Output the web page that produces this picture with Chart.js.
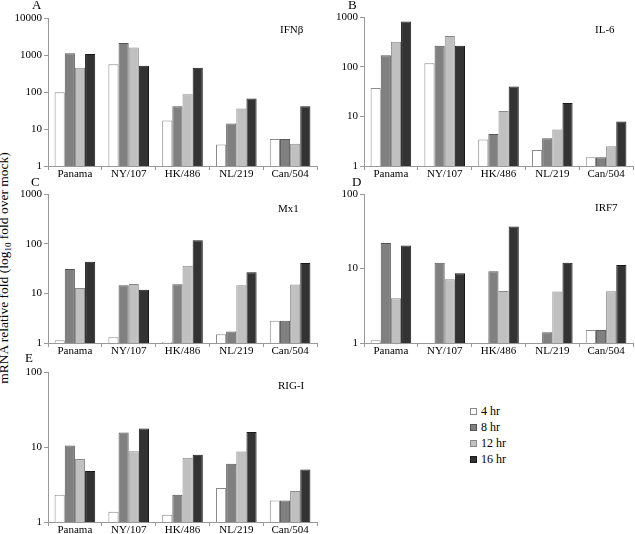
<!DOCTYPE html>
<html>
<head>
<meta charset="utf-8">
<script src="https://cdn.jsdelivr.net/npm/chart.js@4.4.0/dist/chart.umd.min.js"></script>
<style>
body { margin: 0; background: #fff; width: 635px; height: 534px; overflow: hidden; position: relative; font-family: "Liberation Serif", serif; color: #000; }
canvas { position: absolute; }
.letra { position: absolute; font-size: 13px; line-height: 13px; }
.gen { position: absolute; font-size: 11px; line-height: 11px; }
#yTitle { position: absolute; left: 6px; top: 268px; transform: translate(-50%, -50%) rotate(-90deg); white-space: nowrap; font-size: 13.5px; line-height: 13px; }
#yTitle sub { font-size: 9px; }
#leyenda { position: absolute; left: 470px; top: 403px; font-size: 12px; }
.item { height: 16px; display: flex; align-items: center; }
.cuadro { width: 5px; height: 5px; border: 1px solid; margin-right: 4px; }
</style>
</head>
<body>
<div id="yTitle">mRNA relative fold (log<sub>10</sub> fold over mock)</div>
<div id="leyenda"></div>
<script>
// datos
const cepas = ['Panama', 'NY/107', 'HK/486', 'NL/219', 'Can/504'];
const horas = ['4 hr', '8 hr', '12 hr', '16 hr'];

// cada fila es una hora (4, 8, 12, 16 hr)
const ifnb = [
    [98, 560, 17, 3.8, 5.4],
    [1120, 2100, 41, 14, 5.4],
    [450, 1600, 87, 36, 4],
    [1070, 510, 450, 67, 41]
];
const il6 = [
    [37, 117, 3.4, 2.1, 1.5],
    [170, 263, 4.4, 3.6, 1.5],
    [316, 413, 12.8, 5.4, 2.5],
    [810, 263, 40, 18.5, 7.9]
];
const mx1 = [
    [1.13, 1.3, 1.06, 1.5, 2.8],
    [31, 14.5, 15.2, 1.7, 2.8],
    [12.8, 15.4, 36, 14.5, 15],
    [43, 11.8, 117, 26.5, 41]
];
const irf7 = [
    [1.09, null, null, null, 1.5],
    [22, 11.9, 9.2, 1.39, 1.5],
    [4.0, 7.2, 5.0, 4.9, 4.96],
    [20.4, 8.65, 36.7, 11.9, 11.1]
];
const rigi = [
    [2.3, 1.37, 1.25, 2.85, 1.93],
    [10.5, 15.6, 2.3, 6.0, 1.93],
    [6.9, 8.8, 7.2, 8.7, 2.6],
    [4.8, 17.7, 7.9, 15.8, 5.0]
];

const colores = ['#ffffff', '#808080', '#c0c0c0', '#333333'];
const bordes = ['#8a8a8a', '#555555', '#8a8a8a', '#1a1a1a'];

const paneles = [
    { letra: 'A', gen: 'IFNβ', datos: ifnb, max: 10000, left: 0, top: 0, h: 180, yw: 48, pt: 18, pr: 3, lx: 32, ly: -2, gx: 280, gy: 24 },
    { letra: 'B', gen: 'IL-6', datos: il6, max: 1000, left: 315, top: 0, h: 180, yw: 49, pt: 17, pr: 2, lx: 348, ly: -2, gx: 595, gy: 24 },
    { letra: 'C', gen: 'Mx1', datos: mx1, max: 1000, left: 0, top: 176, h: 181, yw: 48, pt: 18, pr: 3, lx: 31, ly: 175, gx: 278, gy: 203 },
    { letra: 'D', gen: 'IRF7', datos: irf7, max: 100, left: 315, top: 176, h: 181, yw: 49, pt: 18, pr: 2, lx: 352, ly: 175, gx: 595, gy: 202 },
    { letra: 'E', gen: 'RIG-I', datos: rigi, max: 100, left: 0, top: 354, h: 182, yw: 48, pt: 18, pr: 3, lx: 25, ly: 351, gx: 278, gy: 380 }
];

Chart.defaults.font.family = 'Liberation Serif';
const fuente = { family: 'Liberation Serif', size: 11 };

const crearTexto = (clase, texto, x, y) => {
    const div = document.createElement('div');
    div.className = clase;
    div.textContent = texto;
    div.style.left = x + 'px';
    div.style.top = y + 'px';
    document.body.append(div);
};

paneles.forEach((p) => {
    const canvas = document.createElement('canvas');
    canvas.width = 320;
    canvas.height = p.h;
    canvas.style.left = p.left + 'px';
    canvas.style.top = p.top + 'px';
    document.body.append(canvas);

    new Chart(canvas, {
        type: 'bar',
        data: {
            labels: cepas,
            datasets: horas.map((hora, i) => ({
                label: hora,
                data: p.datos[i],
                backgroundColor: colores[i],
                borderColor: bordes[i],
                borderWidth: 1
            }))
        },
        options: {
            responsive: false,
            animation: false,
            devicePixelRatio: 1,
            layout: { padding: { top: p.pt, right: p.pr, left: 0, bottom: 0 } },
            plugins: { legend: { display: false }, tooltip: { enabled: false } },
            datasets: { bar: { categoryPercentage: 0.755, barPercentage: 1 } },
            scales: {
                x: {
                    grid: { drawOnChartArea: false, tickLength: 4, color: '#999' },
                    border: { color: '#999' },
                    ticks: { font: fuente, color: '#000', padding: -2, maxRotation: 0, autoSkip: false },
                    afterFit: (s) => { s.height = 14; }
                },
                y: {
                    type: 'logarithmic',
                    min: 1,
                    max: p.max,
                    grid: { drawOnChartArea: false, tickLength: 4, color: '#999' },
                    border: { color: '#999' },
                    ticks: { font: fuente, color: '#000', padding: 2, callback: (v) => String(v) },
                    afterBuildTicks: (s) => {
                        const t = [];
                        for (let v = 1; v <= p.max; v *= 10) t.push({ value: v });
                        s.ticks = t;
                    },
                    afterFit: (s) => { s.width = p.yw; }
                }
            }
        }
    });

    crearTexto('letra', p.letra, p.lx, p.ly);
    crearTexto('gen', p.gen, p.gx, p.gy);
});

// leyenda
const leyenda = document.getElementById('leyenda');
horas.forEach((hora, i) => {
    const item = document.createElement('div');
    item.className = 'item';
    const cuadro = document.createElement('span');
    cuadro.className = 'cuadro';
    cuadro.style.background = colores[i];
    cuadro.style.borderColor = bordes[i];
    item.append(cuadro);
    item.append(hora);
    leyenda.append(item);
});
</script>
</body>
</html>
